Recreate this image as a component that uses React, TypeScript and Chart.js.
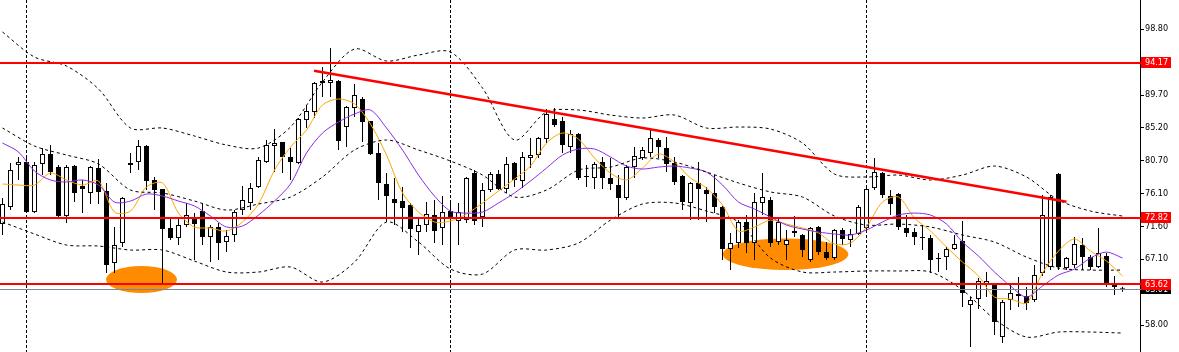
import React, { useEffect, useRef } from 'react';
import { Chart, registerables } from 'chart.js';

Chart.register(...registerables);

// ---- candle data (one per bar) ----
const opens = [71.93,74.28,80.06,80.47,73.58,80.20,81.58,79.78,73.03,79.92,
  77.17,76.21,79.64,76.48,66.56,69.32,80.06,80.47,82.68,78.00,
  76.76,71.38,70.00,71.79,72.75,73.72,70.14,71.52,69.45,70.42,
  73.86,74.83,77.03,80.47,82.68,83.23,81.17,80.34,86.26,87.37,
  91.64,91.36,91.64,85.30,87.92,89.16,86.13,81.72,77.45,75.38,
  75.10,74.55,70.83,71.79,73.17,71.38,73.72,72.35,72.48,78.96,
  72.89,76.62,78.82,76.76,80.34,77.86,81.03,81.44,83.64,86.40,
  86.13,82.54,84.33,78.55,78.27,80.47,78.27,77.31,75.52,79.78,
  81.03,81.72,83.51,82.41,80.34,78.55,74.83,77.59,76.62,76.21,
  74.28,68.49,69.32,72.21,69.32,74.83,75.24,69.45,69.04,70.97,
  70.42,66.97,71.52,68.07,67.25,71.11,69.73,70.56,71.38,76.89,
  78.96,75.79,76.07,71.38,70.83,70.14,70.00,67.25,67.38,68.49,
  69.59,60.77,61.60,63.53,63.53,56.36,61.46,62.29,62.01,61.46,
  65.18,66.01,78.82,65.87,66.28,69.04,67.38,66.01,67.52,63.53,
  63.15];
const highs = [75.52,80.34,81.17,81.03,80.47,82.41,82.82,80.06,80.06,80.06,
  78.00,79.92,80.89,77.59,71.52,75.65,81.72,83.51,82.82,78.41,
  76.76,72.89,72.89,74.83,73.44,74.83,71.79,72.07,71.11,73.86,
  77.17,77.59,81.17,83.51,85.02,83.23,82.41,86.54,88.33,91.50,
  93.57,96.19,91.78,88.19,91.22,89.43,86.13,83.09,78.96,78.27,
  77.03,74.83,72.75,74.96,75.24,75.79,75.24,74.83,78.41,79.37,
  77.59,79.09,79.37,81.17,80.47,81.86,83.78,83.92,87.78,87.92,
  86.68,84.89,84.47,80.06,80.47,81.17,81.03,78.68,80.06,82.54,
  82.54,84.89,83.78,83.92,81.17,78.68,77.72,80.47,77.03,78.68,
  74.41,70.69,72.48,73.17,76.21,78.96,75.65,72.89,71.11,73.03,
  70.56,71.52,71.66,69.45,71.24,71.38,71.24,74.55,76.89,81.03,
  79.09,76.62,76.21,73.17,71.38,71.79,70.42,67.94,68.76,70.42,
  72.35,61.87,64.49,65.32,63.81,61.46,63.81,64.63,63.25,66.28,
  75.93,75.93,78.96,67.38,70.14,70.00,67.66,71.38,67.94,64.77,
  63.30];
const lows = [70.42,73.86,78.00,73.44,73.44,78.68,78.68,72.75,72.07,74.96,
  73.44,74.69,74.69,65.18,65.18,68.76,78.96,79.37,76.62,73.86,
  63.81,69.73,69.04,71.52,66.97,69.04,66.69,66.97,68.07,69.45,
  73.17,73.86,76.89,80.34,79.09,78.96,78.00,80.20,85.16,86.54,
  89.43,89.43,82.13,82.54,86.68,83.23,81.44,75.24,72.21,71.79,
  70.83,68.62,67.66,70.83,69.32,69.04,66.97,69.04,72.07,71.79,
  71.52,76.35,76.62,76.21,77.03,76.89,79.64,81.03,83.09,85.30,
  81.72,81.72,78.00,77.03,76.76,76.76,76.62,72.75,75.24,78.27,
  80.75,81.17,81.03,79.09,77.31,73.86,72.48,72.48,72.21,73.44,
  66.97,65.59,68.62,67.94,66.97,73.17,68.76,69.04,66.97,70.14,
  67.38,66.69,67.66,66.97,66.97,69.04,68.76,70.42,71.11,76.62,
  75.52,73.17,71.11,70.14,69.04,68.35,65.18,65.32,65.59,68.35,
  60.49,54.98,60.22,61.87,56.64,55.53,60.08,60.49,60.08,61.18,
  64.77,65.59,65.59,65.59,65.87,65.59,65.59,65.87,63.25,62.15,
  62.60];
const closes = [74.69,79.37,80.47,73.58,80.06,81.58,79.09,73.03,79.78,76.21,
  76.76,79.78,76.35,66.28,69.04,75.52,80.34,82.68,77.86,76.62,
  71.24,70.00,71.79,73.17,71.93,70.14,71.52,69.32,70.28,73.58,
  75.24,76.89,80.75,82.82,83.09,81.17,80.47,86.40,87.50,91.36,
  91.36,91.78,83.37,88.05,89.71,85.99,81.58,77.59,75.79,74.83,
  74.14,71.24,71.79,73.31,70.97,73.58,72.89,73.58,78.27,72.35,
  76.62,78.82,76.76,80.20,78.00,81.17,81.44,83.78,87.09,85.57,
  82.82,84.33,78.27,78.41,80.20,78.27,77.45,75.52,79.78,81.30,
  82.13,83.78,82.54,80.20,77.72,74.96,77.59,76.76,76.07,74.28,
  68.49,69.32,72.21,69.32,74.96,75.65,69.32,72.21,69.73,70.69,
  68.35,71.38,68.07,67.25,71.11,69.87,70.56,74.28,76.76,79.09,
  75.93,74.69,71.52,70.69,70.14,70.00,66.97,67.11,68.49,69.18,
  62.42,61.46,64.08,64.08,58.43,61.18,62.42,62.01,61.05,64.91,
  73.17,75.65,66.01,67.25,69.18,67.38,66.01,67.94,63.81,63.25,
  63.01];

// ---- indicator lines, read every maStep / bandStep bars ----
const maStep = 2;
const fastMA = [77.45,77.31,77.31,78.96,78.00,77.31,77.86,73.58,73.72,77.03,
  77.59,73.44,71.52,71.38,70.97,72.21,74.69,79.37,82.54,84.89,
  88.33,89.16,88.47,85.71,81.44,76.21,73.58,72.21,72.35,73.31,
  74.83,76.48,78.13,79.92,83.09,84.47,83.64,81.03,78.96,78.00,
  79.64,81.58,80.47,78.27,76.89,74.55,70.97,71.52,72.48,71.93,
  71.38,70.69,69.18,69.32,71.52,74.96,75.65,72.75,70.97,68.76,
  66.69,64.77,61.87,61.60,61.05,65.18,68.21,69.87,68.21,66.83,
  64.77];
const slowMA = [83.09,81.86,79.23,78.00,77.72,78.00,77.31,74.96,75.10,76.07,
  75.79,75.10,74.41,73.03,71.52,71.66,73.17,75.10,77.45,81.72,
  84.47,85.99,87.09,87.64,85.16,82.13,78.68,75.79,73.72,73.44,
  73.58,74.83,76.21,77.86,79.64,81.44,82.27,82.27,81.17,79.92,
  79.51,79.78,79.92,79.64,79.09,77.31,74.96,74.00,72.89,71.79,
  71.24,70.83,70.56,70.42,71.11,72.21,73.17,73.44,73.17,71.93,
  69.45,67.52,65.32,63.39,61.87,63.39,64.91,65.73,67.25,68.07,
  67.25];
const bandStep = 4;
const bandUpper = [98.39,94.94,93.70,90.54,85.16,85.16,84.06,82.82,82.41,85.30,
  91.50,96.05,94.39,95.22,95.63,90.67,83.51,87.37,87.64,86.95,
  86.54,86.95,85.16,85.30,85.02,83.09,78.82,78.41,78.68,78.00,
  78.68,79.92,78.41,75.24,73.72,73.03];
const bandMiddle = [85.16,82.68,81.44,80.20,76.62,76.21,75.10,73.86,74.69,75.65,
  78.41,82.13,83.51,82.13,80.61,78.68,75.65,76.62,79.37,79.78,
  81.03,80.47,79.09,77.59,76.35,75.65,73.03,71.79,71.93,71.52,
  70.42,69.45,67.38,65.87,65.59,65.59];
const bandLower = [72.21,70.56,69.04,68.90,68.35,68.35,66.83,65.32,65.32,66.01,
  63.94,66.69,72.21,69.45,65.73,65.04,68.35,68.35,69.32,72.48,
  74.69,74.83,73.72,72.21,67.25,65.32,65.32,65.46,65.46,65.32,
  62.84,58.84,56.36,57.05,57.05,56.91];

// ---- axis / annotations ----
const axisTicks = [98.80, 89.70, 85.20, 80.70, 76.10, 71.60, 67.10, 58.00];
const levelLines = [94.17, 72.82, 63.62];
const bidPrice = 63.01;
const trendFrom = { bar: 38.94, price: 93.06 };
const trendTo = { bar: 133.0, price: 75.01 };
const zoneBars = [17.375, 97.875];
const zonePrices = [64.28, 67.77];
const zoneBarSpan = [4.44, 7.85];
const zonePriceSpan = [1.86, 2.18];
const separatorBars = [3, 56, 108];

const X_MIN = -0.3125;
const X_MAX = 142.1875;
const Y_MIN = 54.30;
const Y_MAX = 102.80;

const FONT = '"DejaVu Sans Condensed", "DejaVu Sans", sans-serif';

const overlay = {
  id: 'overlay',
  beforeDatasetsDraw(chart: any) {
    const { ctx, chartArea: a, scales } = chart;
    const x = scales.x, y = scales.y;
    ctx.save();
    ctx.strokeStyle = '#000';
    ctx.lineWidth = 1;
    ctx.setLineDash([3, 2]);
    separatorBars.forEach((b) => {
      const px = Math.round(x.getPixelForValue(b) - 0.5) + 0.5;
      ctx.beginPath();
      ctx.moveTo(px, a.top);
      ctx.lineTo(px, a.bottom);
      ctx.stroke();
    });
    ctx.setLineDash([]);
    ctx.fillStyle = '#ff8c00';
    zoneBars.forEach((b, k) => {
      const cx = x.getPixelForValue(b);
      const cy = y.getPixelForValue(zonePrices[k]);
      const rx = x.getPixelForValue(b + zoneBarSpan[k]) - cx;
      const ry = cy - y.getPixelForValue(zonePrices[k] + zonePriceSpan[k]);
      ctx.beginPath();
      ctx.ellipse(cx, cy, rx, ry, 0, 0, Math.PI * 2);
      ctx.fill();
    });
    ctx.restore();
  },
  afterDatasetsDraw(chart: any) {
    const { ctx, chartArea: a, scales } = chart;
    const x = scales.x, y = scales.y;
    ctx.save();
    // bid line
    ctx.fillStyle = '#7b8794';
    ctx.fillRect(a.left, Math.round(y.getPixelForValue(bidPrice)), a.right - a.left + 1, 1);
    // horizontal levels
    ctx.fillStyle = '#ff0000';
    levelLines.forEach((v) => {
      const py = Math.round(y.getPixelForValue(v) - 1);
      ctx.fillRect(a.left, py, a.right - a.left + 1, 2);
    });
    // trend line
    ctx.strokeStyle = '#ff0000';
    ctx.lineWidth = 2.6;
    ctx.beginPath();
    ctx.moveTo(x.getPixelForValue(trendFrom.bar), y.getPixelForValue(trendFrom.price));
    ctx.lineTo(x.getPixelForValue(trendTo.bar), y.getPixelForValue(trendTo.price));
    ctx.stroke();
    ctx.restore();
  },
  afterDraw(chart: any) {
    const { ctx, chartArea: a, scales } = chart;
    const y = scales.y;
    ctx.save();
    ctx.font = '9px ' + FONT;
    ctx.textBaseline = 'middle';
    ctx.textAlign = 'left';
    const box = (v: number, bg: string) => {
      const py = y.getPixelForValue(v);
      ctx.fillStyle = bg;
      ctx.fillRect(a.right + 1, Math.round(py - 5.5), 30, 11);
      ctx.fillStyle = '#ffffff';
      ctx.fillText(v.toFixed(2), a.right + 5, py + 0.5);
    };
    box(bidPrice, '#000000');
    levelLines.forEach((v) => box(v, '#ff0000'));
    ctx.restore();
  },
};

export default function App() {
  const ref = useRef<HTMLCanvasElement>(null);
  useEffect(() => {
    document.body.style.margin = '0';
    const idx = opens.map((_, i) => i);
    const wickData = idx.map((i) => ({ x: i, y: [lows[i], highs[i]] }));
    const bodyData = idx.map((i) => ({ x: i, y: [opens[i], closes[i]] }));
    const bodyColors = idx.map((i) => (closes[i] >= opens[i] ? '#ffffff' : '#000000'));
    const line = (vals: number[], step: number) => vals.map((v, k) => ({ x: k * step, y: v }));
    const lineBase = { type: 'line', pointRadius: 0, borderWidth: 1, fill: false, tension: 0.3, order: 0 };

    const chart = new Chart(ref.current as HTMLCanvasElement, {
      type: 'bar',
      data: {
        datasets: [
          { ...lineBase, data: line(bandUpper, bandStep), borderColor: '#000', borderDash: [3, 3] } as any,
          { ...lineBase, data: line(bandMiddle, bandStep), borderColor: '#000', borderDash: [3, 3] } as any,
          { ...lineBase, data: line(bandLower, bandStep), borderColor: '#000', borderDash: [3, 3] } as any,
          { ...lineBase, data: line(slowMA, maStep), borderColor: '#8a2be2' } as any,
          { ...lineBase, data: line(fastMA, maStep), borderColor: '#ffa500' } as any,
          {
            type: 'bar', data: bodyData, backgroundColor: bodyColors, borderColor: '#000', borderWidth: 1,
            borderSkipped: false, barThickness: 5, grouped: false, minBarLength: 1, inflateAmount: 0, order: 1,
          } as any,
          {
            type: 'bar', data: wickData, backgroundColor: '#000', borderWidth: 0,
            barThickness: 1, grouped: false, minBarLength: 1, inflateAmount: 0, order: 2,
          } as any,
        ],
      },
      options: {
        responsive: false,
        animation: false,
        devicePixelRatio: 1,
        events: [],
        layout: { padding: 0 },
        plugins: { legend: { display: false }, tooltip: { enabled: false } },
        scales: {
          x: { type: 'linear', min: X_MIN, max: X_MAX, display: false, offset: false },
          y: {
            type: 'linear', position: 'right', min: Y_MIN, max: Y_MAX,
            afterBuildTicks: (s: any) => { s.ticks = axisTicks.map((v) => ({ value: v })); },
            afterFit: (s: any) => { s.width = 39; s.paddingTop = 0; s.paddingBottom = 0; },
            ticks: {
              color: '#000', padding: 1, font: { family: FONT, size: 9 },
              callback: (v: any) => Number(v).toFixed(2),
            },
            grid: { drawOnChartArea: false, drawTicks: true, tickLength: 4, color: '#000' },
            border: { display: true, color: '#000', width: 1 },
          },
        },
      } as any,
      plugins: [overlay],
    });
    return () => chart.destroy();
  }, []);
  return (
    <div style={{ width: 1179, height: 352 }}>
      <canvas ref={ref} width={1179} height={352} style={{ display: 'block', width: 1179, height: 352 }} />
    </div>
  );
}
